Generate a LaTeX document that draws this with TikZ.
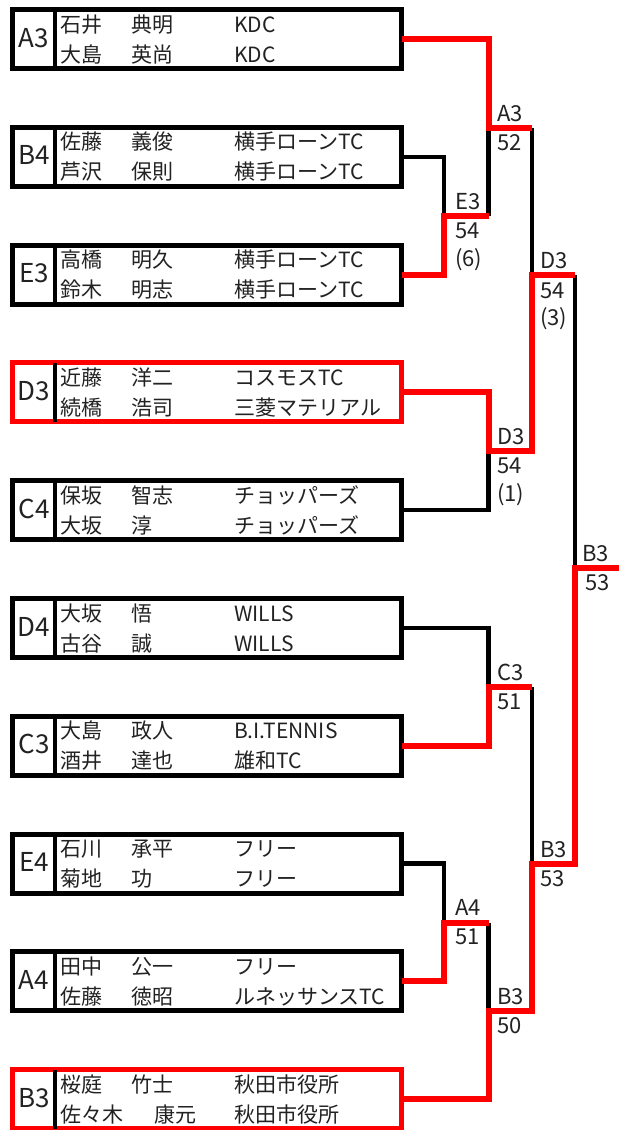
\documentclass[tikz,border=0pt]{standalone}
\usepackage{fontspec}
\setmainfont{Noto Sans CJK JP}
\definecolor{wred}{RGB}{255,0,0}
\definecolor{txt}{RGB}{34,34,34}
\tikzset{
  pbox/.style={draw=#1, line width=5pt, minimum width=389pt, minimum height=59pt, inner sep=0pt, outer sep=0pt},
  divline/.style={draw=black, line width=4.5pt},
  nm/.style={anchor=base west, inner sep=0pt, font=\fontsize{21}{21}\selectfont, text=txt},
  seed/.style={anchor=base, inner sep=0pt, font=\fontsize{26}{26}\selectfont, text=txt},
  lbl/.style={anchor=base west, inner sep=0pt, font=\fontsize{22}{22}\selectfont, text=txt},
  lose/.style={draw=black, line width=4.5pt},
  win/.style={draw=wred, line width=6pt},
}
\newcommand\pbx[9]{%
  \node[nm] (t#1a) at (60,{#2-7}) {#4};
  \node[nm] (t#1b) at (131,{#2-7}) {#5};
  \node[nm] (t#1c) at (234,{#2-7}) {#6};
  \node[nm] (t#1d) at (60,{#2+23}) {#7};
  \node[nm] (t#1e) at (131,{#2+23}) {#8};
  \node[nm] (t#1f) at (234,{#2+23}) {#9};
  \node[seed] (s#1) at (34,{#2+8}) {#1};
  \node[pbox=#3] (b#1) at (207,#2) {};
  \draw[divline] ([xshift=42.5pt]b#1.north west) -- ([xshift=42.5pt]b#1.south west);
}
\begin{document}
\begin{tikzpicture}[x=1pt,y=-1pt]
\useasboundingbox (0,0) rectangle (619,1130);
\fill[white] (0,0) rectangle (619,1130);

\pbx{A3}{39}{black}{石井}{典明}{KDC}{大島}{英尚}{KDC}
\pbx{B4}{156.8}{black}{佐藤}{義俊}{横手ローンTC}{芦沢}{保則}{横手ローンTC}
\pbx{E3}{274.6}{black}{高橋}{明久}{横手ローンTC}{鈴木}{明志}{横手ローンTC}
\pbx{D3}{392.4}{wred}{近藤}{洋二}{コスモスTC}{続橋}{浩司}{三菱マテリアル}
\pbx{C4}{510.2}{black}{保坂}{智志}{チョッパーズ}{大坂}{淳}{チョッパーズ}
\pbx{D4}{628}{black}{大坂}{悟}{WILLS}{古谷}{誠}{WILLS}
\pbx{C3}{745.8}{black}{大島}{政人}{B.I.TENNIS}{酒井}{達也}{雄和TC}
\pbx{E4}{863.6}{black}{石川}{承平}{フリー}{菊地}{功}{フリー}
\pbx{A4}{981.4}{black}{田中}{公一}{フリー}{佐藤}{徳昭}{ルネッサンスTC}
\pbx{B3}{1099.2}{wred}{桜庭}{竹士}{秋田市役所}{佐々木}{\hspace{23pt}康元}{秋田市役所}

% match junctions
\coordinate (m1) at (444,216);
\coordinate (m2) at (488.5,127.5);
\coordinate (m3) at (488.5,451);
\coordinate (m4) at (532,275);
\coordinate (m5) at (488.5,687);
\coordinate (m6) at (444,922.5);
\coordinate (m7) at (488.5,1011);
\coordinate (m8) at (532,864);
\coordinate (m9) at (575,568);
\coordinate (fin) at (619,568);

% losing lines
\draw[lose] (bB4.east) -| (m1);
\draw[lose] (bC4.east) -| (m3);
\draw[lose] (bD4.east) -| (m5);
\draw[lose] (bE4.east) -| (m6);
\draw[lose] (m1 -| m2) -- (m2);
\draw[lose] (m2 -| m4) -- (m4);
\draw[lose] (m5 -| m8) -- (m8);
\draw[lose] (m6 -| m7) -- (m7);
\draw[lose] (m4 -| m9) -- (m9);

% winning lines
\draw[win] (bA3.east) -| (m2) -- (m2 -| m4);
\draw[win] (bE3.east) -| (m1) -- (m1 -| m2);
\draw[win] (bD3.east) -| (m3) -- (m3 -| m4) -- (m4) -- (m4 -| m9);
\draw[win] (bC3.east) -| (m5) -- (m5 -| m8);
\draw[win] (bA4.east) -| (m6) -- (m6 -| m7);
\draw[win] (bB3.east) -| (m7) -- (m7 -| m8) -- (m8) -- (m8 -| m9) -- (m9) -- (fin);

% match labels
\node[lbl] (l1a) at (455,209) {E3};
\node[lbl] (l1b) at (455,238) {54};
\node[lbl] (l1c) at (455,266) {(6)};
\node[lbl] (l2a) at (497,121) {A3};
\node[lbl] (l2b) at (497,150) {52};
\node[lbl] (l3a) at (497,444) {D3};
\node[lbl] (l3b) at (497,473) {54};
\node[lbl] (l3c) at (497,501) {(1)};
\node[lbl] (l4a) at (540,268) {D3};
\node[lbl] (l4b) at (540,298) {54};
\node[lbl] (l4c) at (540,325) {(3)};
\node[lbl] (l5a) at (497,680) {C3};
\node[lbl] (l5b) at (497,709) {51};
\node[lbl] (l6a) at (455,915) {A4};
\node[lbl] (l6b) at (455,944) {51};
\node[lbl] (l7a) at (497,1004) {B3};
\node[lbl] (l7b) at (497,1033) {50};
\node[lbl] (l8a) at (540,857) {B3};
\node[lbl] (l8b) at (540,886) {53};
\node[lbl] (l9a) at (582,561) {B3};
\node[lbl] (l9b) at (585,590) {53};
\end{tikzpicture}
\end{document}
